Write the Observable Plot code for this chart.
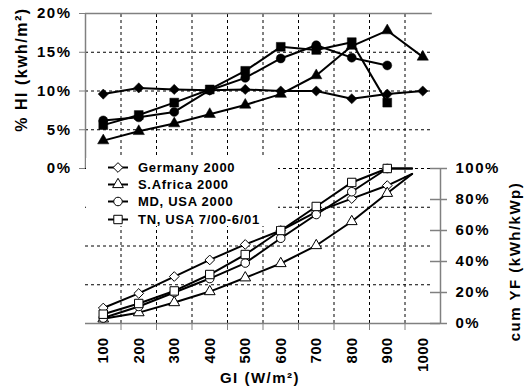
<!DOCTYPE html>
<html><head><meta charset="utf-8">
<script src="https://cdn.jsdelivr.net/npm/d3@7"></script>
<script src="https://cdn.jsdelivr.net/npm/@observablehq/plot@0.6"></script>
<style>
body{margin:0;background:#fff;}
#wrap{position:relative;width:525px;height:387px;}
#legend{position:absolute;left:86px;top:158px;width:192px;height:68px;background:#fff;font:bold 13px "Liberation Sans",Arial,sans-serif;letter-spacing:0.7px;color:#000;}
#legend .row{position:absolute;left:20px;height:17px;display:flex;align-items:center;white-space:nowrap;}
#legend svg{display:block;margin-right:4px;}
svg.chart text{letter-spacing:1.5px;}
g[aria-label="x-axis tick label"] text{letter-spacing:0.3px;}
g[aria-label="ytitle"] text{letter-spacing:0.6px;}
</style></head><body><div id="wrap"><div id="legend"></div></div>
<script>
// categories (GI, W/m²)
const gi = [100,200,300,400,500,600,700,800,900,1000];
const series = ["Germany 2000","S.Africa 2000","MD, USA 2000","TN, USA 7/00-6/01"];
// upper panel: % HI (kwh/m²)
const hiGermany = [9.6,10.4,10.2,10.1,10.2,10.0,10.0,9.0,9.6,10.0];
const hiSAfrica = [3.6,4.8,5.8,7.0,8.2,9.6,12.0,15.8,17.8,14.4];
const hiMD      = [6.2,6.6,7.3,10.1,11.7,14.2,15.9,14.3,13.3,null];
const hiTN      = [5.6,6.9,8.5,10.2,12.6,15.7,15.3,16.3,8.5,null];
// lower panel: cum YF (kWh/kWp), %
const yfGi      = [100,200,300,400,500,600,700,800,900,970];
const yfGermany = [10.0,19.4,30.3,41.0,51.0,60.0,72.0,80.6,89.0,96.5];
const yfSAfrica = [3.0,7.0,13.5,20.6,29.5,38.7,50.3,65.8,84.0,96.5];
const yfMD      = [3.5,11.0,20.0,29.0,39.0,55.0,70.3,85.0,100,100];
const yfTN      = [6.0,12.9,21.0,31.6,44.5,60.0,75.5,91.0,100,100];
// ticks
const leftTicks = [0,5,10,15,20];
const rightTicks = [0,20,40,60,80,100];
const gridX = [150,250,350,450,550,650,750,850,950];
const gridY = [-15,-10,-5,0,5,10,15];

const hiSeries = [hiGermany,hiSAfrica,hiMD,hiTN];
const yfSeries = [yfGermany,yfSAfrica,yfMD,yfTN];
const symbols = ["diamond2","triangle","circle","square"];
const d3symbols = [d3.symbolDiamond2,d3.symbolTriangle,d3.symbolCircle,d3.symbolSquare];
const radii = [4.6,4.2,4.5,5.0];

const toY = v => v/5 - 20; // cum YF 0..100% onto the lower half of the shared y scale
const upx = 1000/355;      // x units per pixel

const topRows = series.flatMap((name,k)=>gi.map((g,i)=>({name,x:g,y:hiSeries[k][i]})).filter(d=>d.y!=null));
const botRows = series.flatMap((name,k)=>yfGi.map((g,i)=>({name,x:g,y:toY(yfSeries[k][i]),end:i===yfGi.length-1})));

const font = '"Liberation Sans", Arial, sans-serif';
const gridStyle = {stroke:"#000",strokeWidth:1,strokeDasharray:"3,3"};
const axisStroke = "#808080";

const marks = [
  Plot.ruleX(gridX,{y1:-20,y2:20,...gridStyle}),
  Plot.ruleY(gridY,{x1:50,x2:1027,...gridStyle}),
  Plot.ruleY([20],{x1:50,x2:1027,stroke:axisStroke,strokeWidth:1.5}),
  Plot.ruleY([-20],{x1:50,x2:1050,stroke:axisStroke,strokeWidth:1.5}),
  Plot.ruleX([50],{y1:0,y2:20,stroke:axisStroke,strokeWidth:1.5}),
  Plot.ruleX([1050],{y1:-20,y2:0,stroke:axisStroke,strokeWidth:1.5}),
  Plot.axisX(gridX,{tickSize:7,tickFormat:()=>"",stroke:axisStroke,label:null}),
  Plot.axisX(gi,{tickSize:0,tickPadding:14,tickRotate:-90,fontSize:15,fontWeight:"bold",fill:"#000",tickFormat:d=>String(d),label:null}),
  Plot.axisY(leftTicks,{anchor:"left",tickSize:6,tickPadding:8,stroke:axisStroke,fill:"#000",fontSize:15,fontWeight:"bold",tickFormat:d=>d+"%",label:null}),
  Plot.ruleY(rightTicks.map(toY),{x1:1050-10*upx,x2:1050+7*upx,stroke:axisStroke,strokeWidth:1.5}),
  Plot.axisY(rightTicks.map(toY),{anchor:"right",tickSize:0,tickPadding:15,fill:"#000",fontSize:15,fontWeight:"bold",tickFormat:d=>Math.round((d+20)*5)+"%",label:null}),
  Plot.line(topRows,{x:"x",y:"y",z:"name",stroke:"#000",strokeWidth:2}),
  Plot.line(botRows,{x:"x",y:"y",z:"name",stroke:"#000",strokeWidth:2}),
  ...series.map((name,k)=>Plot.dot(topRows.filter(d=>d.name===name),{x:"x",y:"y",symbol:symbols[k],r:radii[k],fill:"#000",stroke:"#000",strokeWidth:0.5})),
  ...series.map((name,k)=>Plot.dot(botRows.filter(d=>d.name===name&&!d.end),{x:"x",y:"y",symbol:symbols[k],r:radii[k]*0.95,fill:"#fff",stroke:"#000",strokeWidth:1})),
  Plot.text(["GI (W/m²)"],{frameAnchor:"bottom",dx:-3,dy:55,lineAnchor:"middle",fontSize:15,fontWeight:"bold",fill:"#000"}),
  Plot.text(["% HI (kwh/m²)"],{frameAnchor:"top-left",dx:-64,dy:56,rotate:-90,textAnchor:"middle",lineAnchor:"middle",fontSize:16,fontWeight:"bold",fill:"#000",ariaLabel:"ytitle"}),
  Plot.text(["cum YF (kWh/kWp)"],{frameAnchor:"top-right",dx:75,dy:248,rotate:-90,textAnchor:"middle",lineAnchor:"middle",fontSize:15,fontWeight:"bold",fill:"#000",ariaLabel:"ytitle"})
];

const chart = Plot.plot({
  width:525,height:387,
  marginLeft:85,marginRight:85,marginTop:13,marginBottom:64,
  x:{domain:[50,1050],label:null},
  y:{domain:[-20,20],label:null},
  className:"chart",
  style:{fontFamily:font,fontWeight:"bold",fontSize:"15px",color:"#000",background:"#fff",overflow:"visible"},
  marks
});
chart.classList.add("chart");
const wrap = document.getElementById("wrap");
wrap.insertBefore(chart, wrap.firstChild);

// legend
const legend = document.getElementById("legend");
series.forEach((name,k)=>{
  const row = document.createElement("div");
  row.className = "row";
  row.style.top = (1 + k*17.2) + "px";
  const s = d3.create("svg").attr("width",28).attr("height",17);
  s.append("line").attr("x1",2).attr("x2",22).attr("y1",8.5).attr("y2",8.5).attr("stroke","#000").attr("stroke-width",2);
  s.append("path").attr("transform","translate(12,8.5)")
    .attr("d",d3.symbol(d3symbols[k],Math.PI*radii[k]*radii[k]*0.9)())
    .attr("fill","#fff").attr("stroke","#000").attr("stroke-width",1);
  row.appendChild(s.node());
  const t = document.createElement("span");
  t.textContent = name;
  row.appendChild(t);
  legend.appendChild(row);
});
</script>
</body></html>
